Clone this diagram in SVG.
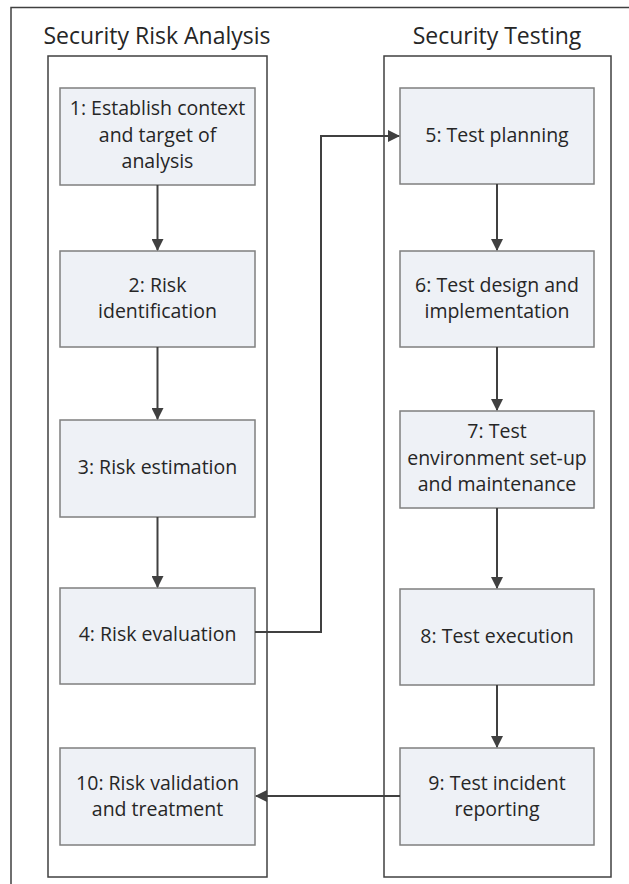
<svg xmlns="http://www.w3.org/2000/svg" width="629" height="884" viewBox="0 0 629 884">
<defs>
<marker id="ah" markerWidth="12" markerHeight="12" refX="11" refY="6" orient="auto" markerUnits="userSpaceOnUse" viewBox="0 0 12 12">
<path d="M0,0 L12,6 L0,12 Z" fill="#404040"/>
</marker>
<style>
.frame{fill:none;stroke:#404040;stroke-width:1.5}
.box{fill:#eef1f6;stroke:#7f7f7f;stroke-width:1.5}
.t{font-family:"Open Sans","Liberation Sans",sans-serif;font-size:19.5px;fill:#262626;text-anchor:middle}
.h{font-family:"Open Sans","Liberation Sans",sans-serif;font-size:23px;fill:#262626;text-anchor:middle}
.c{fill:none;stroke:#404040;stroke-width:2;marker-end:url(#ah)}
</style>
</defs>
<rect x="0" y="0" width="629" height="884" fill="#ffffff"/>
<path class="frame" d="M11,890 V7.5 H640"/>
<g id="lane-risk">
<text class="h" x="157" y="44">Security Risk Analysis</text>
<rect class="frame" x="48" y="56" width="219" height="821"/>
</g>
<g id="lane-test">
<text class="h" x="497" y="44">Security Testing</text>
<rect class="frame" x="384" y="56" width="227" height="821"/>
</g>
<g id="n1"><rect class="box" x="60" y="88" width="195" height="97"/>
<text class="t" x="157.5" y="115">1: Establish context</text><text class="t" x="157.5" y="142">and target of</text><text class="t" x="157.5" y="168">analysis</text></g>
<g id="n2"><rect class="box" x="60" y="251" width="195" height="96"/>
<text class="t" x="157.5" y="292">2: Risk</text><text class="t" x="157.5" y="318">identification</text></g>
<g id="n3"><rect class="box" x="60" y="420" width="195" height="97"/>
<text class="t" x="157.5" y="474">3: Risk estimation</text></g>
<g id="n4"><rect class="box" x="60" y="588" width="195" height="96"/>
<text class="t" x="157.5" y="641">4: Risk evaluation</text></g>
<g id="n10"><rect class="box" x="60" y="748" width="195" height="97"/>
<text class="t" x="157.5" y="790">10: Risk validation</text><text class="t" x="157.5" y="816">and treatment</text></g>
<g id="n5"><rect class="box" x="400" y="88" width="194" height="96"/>
<text class="t" x="497" y="142">5: Test planning</text></g>
<g id="n6"><rect class="box" x="400" y="251" width="194" height="96"/>
<text class="t" x="497" y="292">6: Test design and</text><text class="t" x="497" y="318">implementation</text></g>
<g id="n7"><rect class="box" x="400" y="411" width="194" height="97"/>
<text class="t" x="497" y="438">7: Test</text><text class="t" x="497" y="465">environment set-up</text><text class="t" x="497" y="491">and maintenance</text></g>
<g id="n8"><rect class="box" x="400" y="589" width="194" height="96"/>
<text class="t" x="497" y="643">8: Test execution</text></g>
<g id="n9"><rect class="box" x="400" y="748" width="194" height="97"/>
<text class="t" x="497" y="790">9: Test incident</text><text class="t" x="497" y="816">reporting</text></g>
<g id="connectors">
<path class="c" d="M157.5,185 V250"/>
<path class="c" d="M157.5,347 V419"/>
<path class="c" d="M157.5,517 V587"/>
<path class="c" d="M255,632 H321 V136 H399"/>
<path class="c" d="M497,184 V250"/>
<path class="c" d="M497,347 V410"/>
<path class="c" d="M497,508 V588"/>
<path class="c" d="M497,685 V747"/>
<path class="c" d="M400,796 H256"/>
</g>
</svg>
